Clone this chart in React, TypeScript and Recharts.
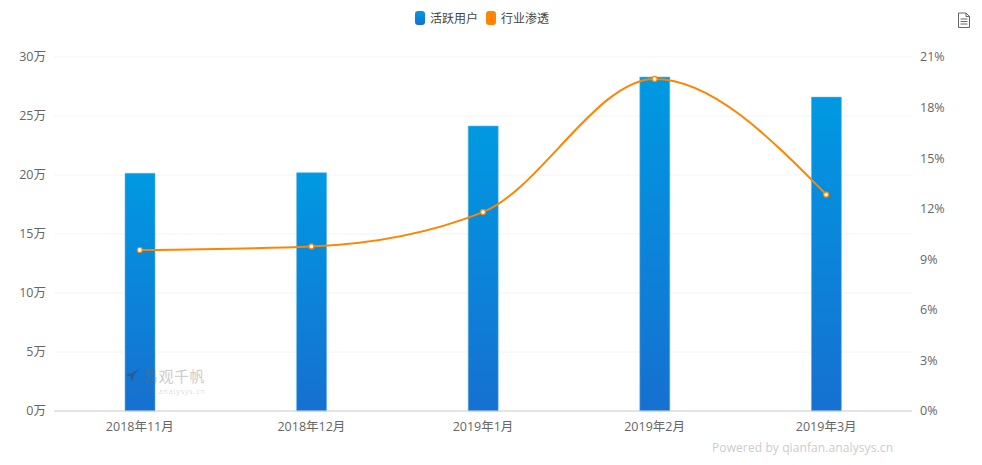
import React from "react";
import { ComposedChart, Bar, Line, XAxis, YAxis, CartesianGrid, Legend } from "recharts";

const categories = ["2018年11月", "2018年12月", "2019年1月", "2019年2月", "2019年3月"];
const activeUsers = [20.15, 20.2, 24.15, 28.3, 26.6];
const penetration = [9.55, 9.76, 11.8, 19.7, 12.84];
const leftTicks = [0, 5, 10, 15, 20, 25, 30];
const rightTicks = [0, 3, 6, 9, 12, 15, 18, 21];
const seriesNames = ["活跃用户", "行业渗透"];

const rows = categories.map((name, i) => ({ name, users: activeUsers[i], rate: penetration[i] }));
const FONT = '"Open Sans", "Noto Sans CJK SC", sans-serif';
const CJK = '"Noto Sans CJK SC", sans-serif';

function LegendContent() {
  const swatch = (bg: string): React.CSSProperties => ({
    display: "inline-block", width: 10, height: 14, borderRadius: 3, background: bg, marginRight: 5,
  });
  return (
    <div style={{ display: "flex", alignItems: "center", justifyContent: "center", fontFamily: CJK, fontSize: 12, color: "#444", lineHeight: "14px" }}>
      <span style={swatch("linear-gradient(#0099e0,#1670d0)")} />
      <span style={{ marginRight: 8 }}>{seriesNames[0]}</span>
      <span style={swatch("#ff8400")} />
      <span>{seriesNames[1]}</span>
    </div>
  );
}

export default function App() {
  return (
    <div style={{ position: "absolute", left: 0, top: 0, width: 982, height: 465, overflow: "hidden", background: "#fff" }}>
      <ComposedChart width={982} height={465} data={rows} margin={{ top: 43, right: 0, bottom: 24, left: 0 }} barCategoryGap="0%">
        <defs>
          <linearGradient id="barFill" x1="0" y1="0" x2="0" y2="1">
            <stop offset="0%" stopColor="#0099e2" />
            <stop offset="100%" stopColor="#1670d0" />
          </linearGradient>
        </defs>
        <CartesianGrid yAxisId="left" vertical={false} stroke="#f4f4f4" strokeWidth={1} />
        <XAxis dataKey="name" axisLine={{ stroke: "#cfcfcf" }} tickLine={false} tickMargin={5} interval={0}
          tick={{ fontSize: 12.5, fill: "#666", fontFamily: FONT }} />
        <YAxis yAxisId="left" orientation="left" width={54} domain={[0, 30]} ticks={leftTicks} axisLine={false} tickLine={false}
          tickFormatter={(v: number) => `${v}万`} tickMargin={2} tick={{ fontSize: 12.5, fill: "#666", fontFamily: FONT }} />
        <YAxis yAxisId="right" orientation="right" width={70} domain={[0, 21]} ticks={rightTicks} axisLine={false} tickLine={false}
          tickFormatter={(v: number) => `${v}%`} tickMargin={2} tick={{ fontSize: 12.5, fill: "#666", fontFamily: FONT }} />
        <Legend verticalAlign="top" content={<LegendContent />} wrapperStyle={{ top: 11, left: 0, width: 964 }} />
        <Bar yAxisId="left" dataKey="users" barSize={30} fill="url(#barFill)" stroke="#5cb8ee" strokeOpacity={0.55} strokeWidth={1} isAnimationActive={false} />
        <Line yAxisId="right" dataKey="rate" type="monotone" stroke="#ff8400" strokeWidth={2}
          dot={{ r: 2.5, fill: "#fff", stroke: "#ff8400", strokeWidth: 1.2, fillOpacity: 1 }} activeDot={false} isAnimationActive={false} />
      </ComposedChart>

      <svg style={{ position: "absolute", left: 957, top: 12 }} width="14" height="17" viewBox="0 0 14 17">
        <path d="M1.5 1 H9 L12.5 4.5 V15.5 H1.5 Z M9 1 V4.5 H12.5 M3.5 7 H10.5 M3.5 9.5 H10.5 M3.5 12 H10.5" fill="none" stroke="#666" strokeWidth="1" />
      </svg>

      <svg style={{ position: "absolute", left: 124, top: 368 }} width="16" height="16" viewBox="0 0 16 16">
        <path d="M1 7 L6 8 L8 14 L10 7 L15 1 L8 5 Z" fill="#444" fillOpacity="0.5" />
      </svg>
      <div style={{ position: "absolute", left: 143, top: 367, fontFamily: CJK, fontSize: 15, lineHeight: "18px", fontWeight: 500, letterSpacing: 0.5, color: "rgba(110,110,110,0.32)", whiteSpace: "nowrap" }}>易观千帆</div>
      <div style={{ position: "absolute", left: 125, top: 387, fontFamily: FONT, fontSize: 7, lineHeight: "9px", letterSpacing: 0.9, color: "rgba(110,110,110,0.28)", whiteSpace: "nowrap" }}>qianfan.analysys.cn</div>
      <div style={{ position: "absolute", left: 712, top: 440, fontFamily: FONT, fontSize: 12, lineHeight: "16px", letterSpacing: 0.1, color: "#ccc", whiteSpace: "nowrap" }}>Powered by qianfan.analysys.cn</div>
    </div>
  );
}
